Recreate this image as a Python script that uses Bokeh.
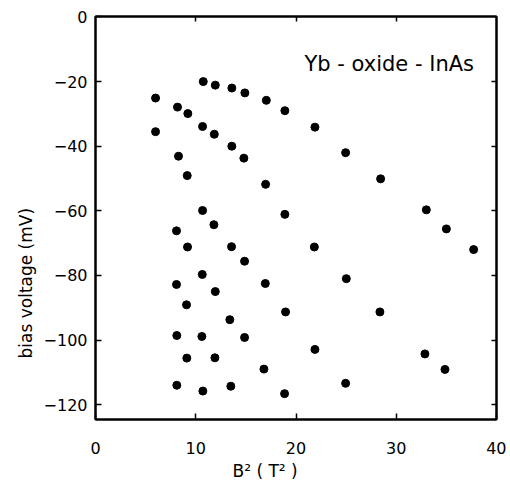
from bokeh.plotting import figure
from bokeh.models import Range1d, LinearAxis, Label, FixedTicker, ColumnDataSource, Title
from bokeh.embed import file_html
from bokeh.resources import INLINE

# B^2 (T^2) values and bias voltage (mV) of the measured points
b_squared = [5.99, 5.99, 10.75, 11.95, 13.60, 14.90, 17.04, 18.89, 8.18, 9.21,
             10.68, 11.85, 13.60, 14.80, 8.28, 9.15, 16.97, 18.89, 10.68, 11.81,
             8.08, 21.89, 24.95, 28.44, 33.00, 35.00, 9.18, 13.57, 14.87, 10.65,
             8.08, 11.95, 16.94, 9.08, 18.96, 13.40, 8.11, 10.61, 14.87, 9.11,
             11.91, 16.80, 8.11, 10.71, 13.50, 18.86, 21.83, 37.72, 25.02, 28.37,
             21.89, 32.86, 34.86, 24.95]
bias_mv = [-25.1, -35.5, -20.0, -21.1, -22.0, -23.5, -25.8, -29.0, -27.9, -29.9,
           -33.9, -36.3, -40.0, -43.7, -43.1, -49.1, -51.8, -61.1, -59.9, -64.3,
           -66.2, -34.1, -42.0, -50.1, -59.7, -65.6, -71.2, -71.1, -75.6, -79.7,
           -82.8, -85.0, -82.5, -89.1, -91.3, -93.7, -98.6, -98.9, -99.2, -105.6,
           -105.5, -109.0, -114.0, -115.8, -114.3, -116.6, -71.2, -72.0, -81.0, -91.3,
           -102.9, -104.3, -109.1, -113.4]

x_ticks = [0, 10, 20, 30, 40]
y_ticks = [0, -20, -40, -60, -80, -100, -120]

FONT = "DejaVu Sans"

p = figure(output_backend="svg", toolbar_location=None,
           frame_width=401, frame_height=403,
           x_range=Range1d(0, 40), y_range=Range1d(-124.6, 0.15),
           min_border_left=95, min_border_right=10,
           min_border_top=16, min_border_bottom=60)

p.background_fill_color = "white"
p.border_fill_color = "white"
p.outline_line_color = "black"
p.outline_line_width = 2
p.xgrid.visible = False
p.ygrid.visible = False

for ax in p.xaxis + p.yaxis:
    ax.major_tick_in = 6
    ax.major_tick_out = 0
    ax.minor_tick_line_color = None
    ax.axis_line_width = 2
    ax.major_tick_line_width = 1.5
    ax.major_label_text_font = FONT
    ax.major_label_text_font_size = "16px"
    ax.major_label_text_color = "black"

p.xaxis.ticker = FixedTicker(ticks=x_ticks)
p.yaxis.ticker = FixedTicker(ticks=y_ticks)
p.xaxis.major_label_standoff = 22
p.yaxis.major_label_standoff = 8

top = LinearAxis(ticker=FixedTicker(ticks=x_ticks[1:-1]), major_tick_in=5, major_tick_out=0,
                 minor_tick_line_color=None, major_label_text_color=None,
                 major_label_text_font_size="1px",
                 major_label_standoff=0, axis_line_width=2, major_tick_line_width=1.5)
right = LinearAxis(ticker=FixedTicker(ticks=y_ticks[1:]), major_tick_in=5, major_tick_out=0,
                   minor_tick_line_color=None, major_label_text_color=None,
                   major_label_text_font_size="1px",
                   major_label_standoff=0, axis_line_width=2, major_tick_line_width=1.5)
p.add_layout(top, "above")
p.add_layout(right, "right")

src = ColumnDataSource(dict(x=b_squared, y=bias_mv))
p.scatter("x", "y", source=src, marker="circle", size=8,
          fill_color="black", line_color="black")

p.add_layout(Label(x=29.3, y=-14.5, text="Yb - oxide - InAs", text_font=FONT,
                   text_font_size="21px", text_align="center", text_baseline="middle",
                   text_color="black"))

p.add_layout(Title(text="B² ( T² )", align="left", offset=137, standoff=5,
                   text_font=FONT, text_font_size="17px", text_font_style="normal",
                   text_color="black"), "below")
p.add_layout(Title(text="bias  voltage (mV)", align="left", offset=61, standoff=10,
                   text_font=FONT, text_font_size="17px", text_font_style="normal",
                   text_color="black"), "left")

open("out.html", "w").write(file_html(p, INLINE))
